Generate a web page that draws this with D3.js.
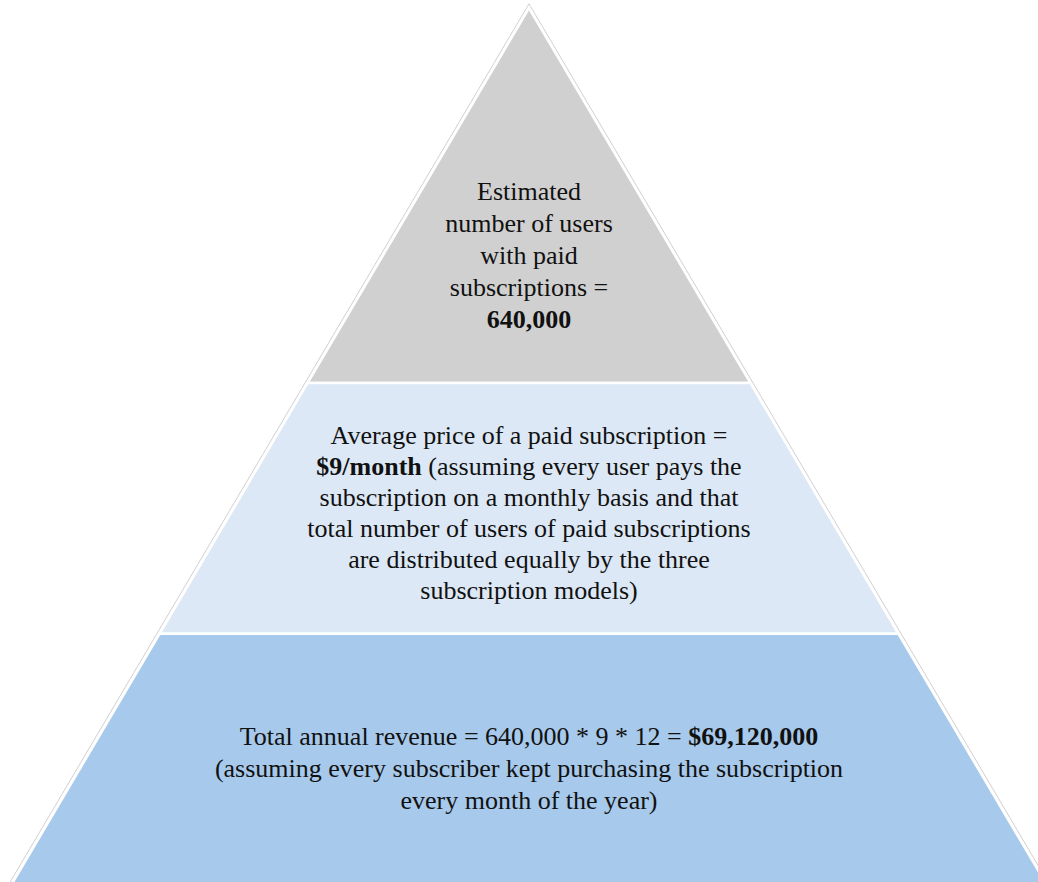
<!DOCTYPE html>
<html>
<head>
<meta charset="utf-8">
<script src="https://cdn.jsdelivr.net/npm/d3@7"></script>
<style>
  html, body { margin: 0; padding: 0; background: #ffffff; }
  svg { display: block; }
  text { font-family: "Liberation Serif", "Times New Roman", serif; fill: #111; }
</style>
</head>
<body>
<svg id="chart" width="1038" height="882"></svg>
<script>
// Figures behind the revenue estimate
const paidUsers = 640000;
const monthlyPrice = 9;
const monthsPerYear = 12;
const annualRevenue = paidUsers * monthlyPrice * monthsPerYear;

// Pyramid tiers, top to bottom, with the depth (0 = apex, 1 = bottom edge of the page) where each ends
const tierNames = ["users", "price", "revenue"];
const tierBreaks = [0, 0.429, 0.716, 1.04];
const tierColors = ["#d0d0d0", "#dce8f5", "#a7c9eb"];

const fmt = d3.format(",");

// Label lines for each tier; each line is a list of [text, bold] runs
const tierLabels = [
  [
    [["Estimated", false]],
    [["number of users", false]],
    [["with paid", false]],
    [["subscriptions =", false]],
    [[fmt(paidUsers), true]]
  ],
  [
    [["Average price of a paid subscription =", false]],
    [["$" + monthlyPrice + "/month", true], [" (assuming every user pays the", false]],
    [["subscription on a monthly basis and that", false]],
    [["total number of users of paid subscriptions", false]],
    [["are distributed equally by the three", false]],
    [["subscription models)", false]]
  ],
  [
    [["Total annual revenue = " + fmt(paidUsers) + " * " + monthlyPrice + " * " + monthsPerYear + " = ", false], ["$" + fmt(annualRevenue), true]],
    [["(assuming every subscriber kept purchasing the subscription", false]],
    [["every month of the year)", false]]
  ]
];

const svg = d3.select("#chart");
const apex = { x: 529, y: 8 };
const base = { y: 882, halfWidth: 516 };

// depth -> vertical position, and depth -> half width of the pyramid
const yScale = d3.scaleLinear().domain([0, 1]).range([apex.y, base.y]);
const halfW = d3.scaleLinear().domain([0, 1]).range([0, base.halfWidth]);

const line = d3.line();
const last = tierBreaks[tierBreaks.length - 1];

// Faint outline around the whole pyramid
const pad = 2.2;
svg.append("path")
  .attr("d", line([
    [apex.x, apex.y - pad * 1.9],
    [apex.x - halfW(last) - pad * 1.9, yScale(last) + pad],
    [apex.x + halfW(last) + pad * 1.9, yScale(last) + pad]
  ]) + "Z")
  .attr("fill", "#ffffff")
  .attr("stroke", "#c4c4c4")
  .attr("stroke-width", 0.8);

const tiers = tierNames.map((name, i) => ({
  name,
  top: tierBreaks[i],
  bottom: tierBreaks[i + 1],
  color: tierColors[i],
  label: tierLabels[i]
}));

function tierPoly(d) {
  const t = d.top, b = d.bottom;
  const pts = t === 0
    ? [[apex.x, yScale(0)]]
    : [[apex.x - halfW(t), yScale(t)], [apex.x + halfW(t), yScale(t)]];
  pts.push([apex.x + halfW(b), yScale(b)], [apex.x - halfW(b), yScale(b)]);
  return line(pts) + "Z";
}

svg.selectAll("path.tier")
  .data(tiers)
  .join("path")
  .attr("class", "tier")
  .attr("d", tierPoly)
  .attr("fill", d => d.color)
  .attr("stroke", "#ffffff")
  .attr("stroke-width", 2.5)
  .attr("stroke-linejoin", "miter");

// Label centres and line spacing per tier
const labelCenters = [255, 512, 768];
const lineGaps = [32, 31, 32];

tiers.forEach((d, i) => {
  const n = d.label.length;
  const y0 = labelCenters[i] - (n - 1) * lineGaps[i] / 2;
  const g = svg.append("g");
  d.label.forEach((runs, j) => {
    const t = g.append("text")
      .attr("x", apex.x)
      .attr("y", y0 + j * lineGaps[i])
      .attr("text-anchor", "middle")
      .attr("dominant-baseline", "central")
      .attr("font-size", 26);
    runs.forEach(([txt, bold]) => {
      t.append("tspan")
        .attr("font-weight", bold ? "bold" : "normal")
        .text(txt);
    });
  });
});
</script>
</body>
</html>
